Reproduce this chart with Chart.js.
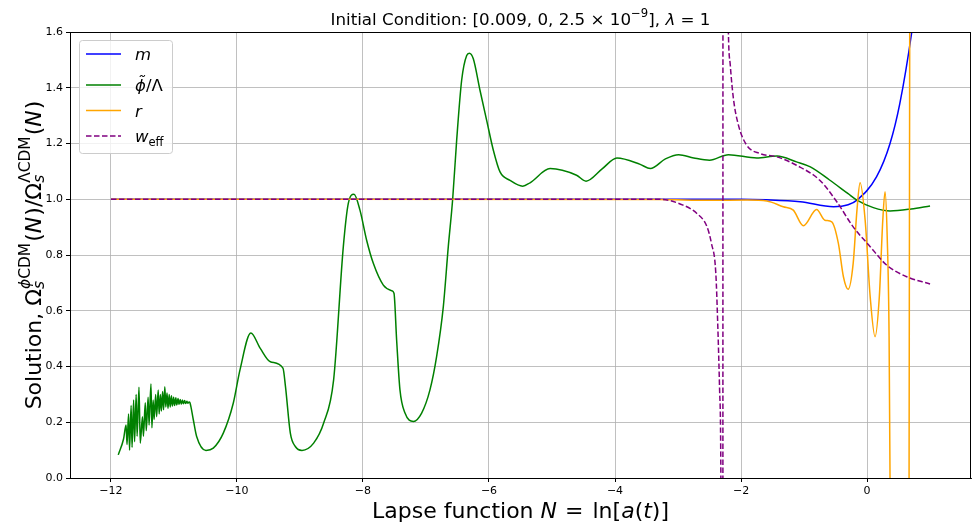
<!DOCTYPE html>
<html>
<head>
<meta charset="utf-8">
<script src="https://cdn.jsdelivr.net/npm/chart.js"></script>
<style>
  body { margin: 0; background: #fff; }
</style>
</head>
<body>
<canvas id="myChart" width="975" height="526"></canvas>
<script>

// tick positions
const xTicks = [-12, -10, -8, -6, -4, -2, 0]
const yTicks = [0, 0.2, 0.4, 0.6, 0.8, 1.0, 1.2, 1.4, 1.6]

// m
const mN   = [-12, -2, -1.6, -1.06, -0.53, -0.3, -0.16, 0.15, 0.365, 0.52, 0.71, 0.85, 1.0]
const mVal = [1, 1, 0.998, 0.991, 0.973, 0.98, 0.997, 1.08, 1.2, 1.343, 1.6, 1.85, 2.2]

// phi tilde / Lambda
const phiN = [-11.884, -11.8, -11.76, -11.745, -11.72, -11.705, -11.68, -11.665, -11.64, -11.625,
  -11.6, -11.585, -11.555, -11.535, -11.5, -11.485, -11.455, -11.44, -11.41, -11.395,
  -11.365, -11.35, -11.33, -11.315, -11.29, -11.275, -11.25, -11.235, -11.215, -11.2,
  -11.18, -11.165, -11.145, -11.13, -11.11, -11.095, -11.075, -11.06, -11.04, -11.025,
  -11.005, -10.99, -10.97, -10.955, -10.935, -10.92, -10.9, -10.885, -10.865, -10.85,
  -10.83, -10.815, -10.795, -10.78, -10.76, -10.746,
  -10.693, -10.64, -10.492, -10.376,
  -10.217, -10.058, -9.952, -9.78, -9.63, -9.47, -9.27, -9.23, -9.153, -9.074,
  -8.968, -8.783, -8.624, -8.466, -8.312, -8.233, -8.143, -8.048, -7.942, -7.836,
  -7.677, -7.545, -7.508, -7.466, -7.413, -7.333, -7.2, -7.069, -6.937, -6.831,
  -6.725, -6.646, -6.577, -6.513, -6.434, -6.354, -6.312, -6.249, -6.143, -6.037,
  -5.931, -5.825, -5.667, -5.466, -5.349, -5.03, -4.61, -4.46, -4.2, -3.97,
  -3.6, -3.44, -3.2, -2.99, -2.75, -2.5, -2.2, -1.75, -1.43, -1.12,
  -0.9, -0.6, -0.3, -0.16, 0.1, 0.365, 0.7, 1.0]
const phiVal = [0.083, 0.14, 0.19, 0.12, 0.23, 0.1, 0.26, 0.11, 0.28, 0.13,
  0.3, 0.15, 0.326, 0.125, 0.22, 0.15, 0.27, 0.17, 0.29, 0.19,
  0.337, 0.18, 0.28, 0.21, 0.3, 0.22, 0.316, 0.23, 0.3, 0.24,
  0.31, 0.245, 0.327, 0.255, 0.305, 0.25, 0.3, 0.255, 0.295, 0.258,
  0.29, 0.26, 0.288, 0.262, 0.285, 0.264, 0.282, 0.265, 0.28, 0.266,
  0.278, 0.267, 0.275, 0.268, 0.273, 0.27,
  0.209, 0.149, 0.099, 0.107,
  0.161, 0.269, 0.388, 0.52, 0.465, 0.417, 0.394, 0.328, 0.161, 0.113,
  0.099, 0.125, 0.197, 0.352, 0.83, 0.985, 1.018, 0.961, 0.853, 0.77,
  0.692, 0.672, 0.663, 0.495, 0.316, 0.233, 0.203, 0.233, 0.316, 0.436,
  0.615, 0.83, 0.999, 1.212, 1.427, 1.516, 1.524, 1.504, 1.391, 1.283,
  1.176, 1.098, 1.068, 1.047, 1.059, 1.11, 1.086, 1.065, 1.11, 1.148,
  1.125, 1.11, 1.145, 1.16, 1.148, 1.14, 1.16, 1.148, 1.155, 1.134,
  1.116, 1.07, 1.02, 0.997, 0.97, 0.958, 0.965, 0.976]

// r
const rN   = [-12, -3.3, -2.5, -1.9, -1.59, -1.33, -1.17, -1.01, -0.8, -0.67, -0.56, -0.455, -0.375, -0.3,
  -0.22, -0.16, -0.11, -0.03, 0.05, 0.127, 0.195, 0.25, 0.286, 0.32, 0.35, 0.365, 0.38, 0.66, 0.667, 0.68]
const rVal = [1, 0.999, 0.996, 0.997, 0.994, 0.973, 0.961, 0.905, 0.963, 0.925, 0.919, 0.842, 0.722, 0.677,
  0.77, 0.961, 1.059, 0.925, 0.65, 0.507, 0.65, 0.925, 1.027, 0.865, 0.507, 0, -1, -1, 0, 2]

// w_eff
const wN   = [-12, -3.29, -2.92, -2.7, -2.54, -2.47, -2.4, -2.37, -2.34, -2.32, -2.29, -2.285, -2.23, -2.2,
  -2.17, -2.12, -2.04, -1.91, -1.7, -1.43, -1.12, -0.75, -0.48, -0.22, 0.05, 0.31, 0.63, 1.0]
const wVal = [1, 1, 0.979, 0.949, 0.901, 0.842, 0.734, 0.555, 0.316, 0.006, -3, 4, 2.1, 1.594,
  1.48, 1.36, 1.265, 1.194, 1.164, 1.152, 1.122, 1.068, 0.991, 0.901, 0.83, 0.764, 0.722, 0.696]

function pairs(xs, ys) {
    return xs.map((x, i) => ({x: x, y: ys[i]}))
}

const FONT = '"DejaVu Sans"'

function fontOf(p, size) {
    return (p.i ? 'italic ' : '') + (size * (p.s || 1)).toFixed(2) + 'px ' + FONT
}

// p.k = draw but do not move on (sub under a sup), p.g = extra gap after, in em
function measureRich(ctx, parts, size) {
    let w = 0
    for (const p of parts) {
        ctx.font = fontOf(p, size)
        if (!p.k) w += ctx.measureText(p.t).width + (p.g || 0) * size
    }
    return w
}

function drawRich(ctx, parts, x, y, size) {
    let cx = x
    for (const p of parts) {
        ctx.font = fontOf(p, size)
        ctx.fillText(p.t, cx, y + (p.dy || 0) * size)
        if (!p.k) cx += ctx.measureText(p.t).width + (p.g || 0) * size
    }
}

const titleParts = [{t: 'Initial Condition: [0.009, 0, 2.5 \u00d7 10'}, {t: '\u22129', s: 0.7, dy: -0.45},
    {t: '], '}, {t: '\u03bb', i: 1}, {t: ' = 1'}]
const xLabelParts = [{t: 'Lapse function '}, {t: 'N', i: 1, g: 0.04}, {t: ' = ', g: 0.1}, {t: 'ln['}, {t: 'a', i: 1}, {t: '('},
    {t: 't', i: 1}, {t: ')]'}]
const yLabelParts = [{t: 'Solution, '}, {t: '\u03a9'}, {t: 's', i: 1, s: 0.7, dy: 0.12, k: 1},
    {t: '\u03d5', i: 1, s: 0.7, dy: -0.5}, {t: 'CDM', s: 0.7, dy: -0.5, g: 0.05}, {t: '('}, {t: 'N', i: 1, g: 0.05},
    {t: ')/'}, {t: '\u03a9'}, {t: 's', i: 1, s: 0.7, dy: 0.12, k: 1}, {t: '\u039bCDM', s: 0.7, dy: -0.5, g: 0.05},
    {t: '('}, {t: 'N', i: 1, g: 0.05}, {t: ')'}]

const legendRows = [
    {color: 'blue', dash: [], lineY: 54, textY: 60, parts: [{t: 'm', i: 1}]},
    {color: 'green', dash: [], lineY: 85, textY: 90.5, parts: [{t: '\u03d5\u0303', i: 1}, {t: '/\u039b'}]},
    {color: 'orange', dash: [], lineY: 110.5, textY: 116.5, parts: [{t: 'r', i: 1}]},
    {color: 'purple', dash: [5.5, 2.5], lineY: 136, textY: 141.5, parts: [{t: 'w', i: 1}, {t: 'eff', s: 0.7, dy: 0.25}]}
]

const extras = {
    id: 'extras',
    afterDatasetsDraw(chart) {
        const ctx = chart.ctx
        const a = chart.chartArea
        ctx.save()
        // frame
        ctx.strokeStyle = '#000'
        ctx.lineWidth = 1
        ctx.strokeRect(Math.round(a.left) + 0.5, Math.round(a.top) + 0.5,
            Math.round(a.right - a.left) - 1, Math.round(a.bottom - a.top))

        // legend
        ctx.beginPath()
        ctx.roundRect(79.5, 40.5, 93, 113, 3)
        ctx.fillStyle = 'rgba(255,255,255,0.8)'
        ctx.fill()
        ctx.strokeStyle = '#cccccc'
        ctx.stroke()
        ctx.textBaseline = 'alphabetic'
        ctx.textAlign = 'left'
        legendRows.forEach(row => {
            ctx.beginPath()
            ctx.setLineDash(row.dash)
            ctx.strokeStyle = row.color
            ctx.lineWidth = 1.5
            ctx.moveTo(86, row.lineY)
            ctx.lineTo(121, row.lineY)
            ctx.stroke()
            ctx.setLineDash([])
            ctx.fillStyle = '#000'
            drawRich(ctx, row.parts, 135, row.textY, 16.5)
        })

        // title
        ctx.fillStyle = '#000'
        let w = measureRich(ctx, titleParts, 16.7)
        drawRich(ctx, titleParts, (a.left + a.right) / 2 - w / 2, 25, 16.7)

        // x label
        w = measureRich(ctx, xLabelParts, 22)
        drawRich(ctx, xLabelParts, (a.left + a.right) / 2 - w / 2, 518, 22)

        // y label
        ctx.translate(41, (a.top + a.bottom) / 2)
        ctx.rotate(-Math.PI / 2)
        w = measureRich(ctx, yLabelParts, 22)
        drawRich(ctx, yLabelParts, -w / 2, 0, 22)
        ctx.restore()
    }
}

function lineSet(label, xs, ys, color, dash, order) {
    return {
        label: label,
        data: pairs(xs, ys),
        borderColor: color,
        backgroundColor: color,
        borderWidth: 1.5,
        borderDash: dash,
        pointRadius: 0,
        fill: false,
        cubicInterpolationMode: 'monotone',
        clip: 0,
        order: order
    }
}

const ctx = document.getElementById('myChart')

new Chart(ctx, {
    type: 'line',
    data: {
        datasets: [
            lineSet('m', mN, mVal, 'blue', [], 4),
            lineSet('phi', phiN, phiVal, 'green', [], 3),
            lineSet('r', rN, rVal, 'orange', [], 2),
            lineSet('w_eff', wN, wVal, 'purple', [5.5, 2.5], 1)
        ]
    },
    options: {
        responsive: false,
        animation: false,
        layout: {padding: {top: 32, right: 4, left: 0, bottom: 0}},
        plugins: {
            legend: {display: false},
            title: {display: false},
            tooltip: {enabled: false}
        },
        scales: {
            x: {
                type: 'linear',
                min: -12.65,
                max: 1.65,
                afterBuildTicks: s => { s.ticks = xTicks.map(v => ({value: v})) },
                afterFit: s => { s.height = 48 },
                ticks: {
                    autoSkip: false,
                    maxRotation: 0,
                    padding: 3,
                    color: '#000',
                    font: {family: 'DejaVu Sans', size: 11},
                    callback: v => v < 0 ? '\u2212' + Math.abs(v) : String(v)
                },
                grid: {color: '#b0b0b0', lineWidth: 0.8, tickLength: 4, tickColor: '#000', tickWidth: 1},
                border: {display: true, color: '#000', width: 1}
            },
            y: {
                type: 'linear',
                min: 0,
                max: 1.6,
                afterBuildTicks: s => { s.ticks = yTicks.map(v => ({value: v})) },
                afterFit: s => { s.width = 70 },
                ticks: {
                    autoSkip: false,
                    padding: 3,
                    color: '#000',
                    font: {family: 'DejaVu Sans', size: 11},
                    callback: v => v.toFixed(1)
                },
                grid: {color: '#b0b0b0', lineWidth: 0.8, tickLength: 4, tickColor: '#000', tickWidth: 1},
                border: {display: true, color: '#000', width: 1}
            }
        }
    },
    plugins: [extras]
})
</script>
</body>
</html>
